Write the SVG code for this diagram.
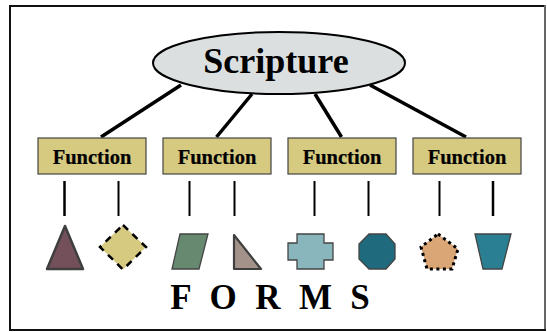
<svg xmlns="http://www.w3.org/2000/svg" width="547" height="332" viewBox="0 0 547 332">
<style>
text{font-family:"Liberation Serif","Times New Roman",serif;font-weight:bold;fill:#000;text-anchor:middle}
.fn rect{fill:#d6ca81;stroke:#444;stroke-width:1.200}
.fn text{font-size:20.500px;stroke:#000;stroke-width:.2}
.c line{stroke:#000;stroke-linecap:butt}
.s{stroke:#444;stroke-width:1.300;stroke-linejoin:miter}
.l{font-size:35px}
</style>
<rect x="10" y="6" width="535" height="324" fill="#fff" stroke="#111" stroke-width="2"/>
<line x1="545" y1="5" x2="545" y2="329" stroke="#666" stroke-width="2"/>
<g id="connectors" class="c">
<line x1="181" y1="85" x2="101" y2="137" stroke-width="3.500"/>
<line x1="252" y1="94" x2="216.500" y2="137" stroke-width="3.500"/>
<line x1="315" y1="94" x2="341.500" y2="137" stroke-width="3.500"/>
<line x1="370" y1="85" x2="466" y2="137" stroke-width="3.500"/>
<line x1="64.500" y1="181" x2="64.500" y2="216" stroke-width="2.500"/>
<line x1="118.500" y1="181" x2="118.500" y2="216" stroke-width="2"/>
<line x1="189.500" y1="181" x2="189.500" y2="216" stroke-width="2"/>
<line x1="234.500" y1="181" x2="234.500" y2="216" stroke-width="2"/>
<line x1="314.500" y1="181" x2="314.500" y2="216" stroke-width="2"/>
<line x1="368.500" y1="181" x2="368.500" y2="216" stroke-width="2"/>
<line x1="439.500" y1="181" x2="439.500" y2="216" stroke-width="2"/>
<line x1="493" y1="181" x2="493" y2="216" stroke-width="2.500"/>
</g>
<g id="scripture">
<ellipse cx="279" cy="63" rx="126" ry="31" fill="#dcdfe0" stroke="#000" stroke-width="2"/>
<text x="276" y="73" font-size="36">Scripture</text>
</g>
<g id="function1" class="fn"><rect x="38" y="138" width="108" height="36"/><text x="92" y="163.500">Function</text></g>
<g id="function2" class="fn"><rect x="163" y="138" width="108" height="36"/><text x="217" y="163.500">Function</text></g>
<g id="function3" class="fn"><rect x="288" y="138" width="108" height="36"/><text x="342" y="163.500">Function</text></g>
<g id="function4" class="fn"><rect x="413" y="138" width="108" height="36"/><text x="467" y="163.500">Function</text></g>
<g id="form1"><polygon points="65,226 83,269 47,269" fill="#74505a" stroke="#3f3f3f" stroke-width="2.500" stroke-linejoin="round"/></g>
<g id="form2"><polygon points="123,225 146,247 123,269.500 100,247" fill="#d6ca81" stroke="#000" stroke-width="2.500" stroke-dasharray="7 6"/></g>
<g id="form3"><polygon class="s" points="180,234 208,234 199,269 172,269" fill="#66896f"/></g>
<g id="form4"><polygon points="234,235 261,269 234,269" fill="#a39289" stroke="#3f3f3f" stroke-width="2.200" stroke-linejoin="round"/></g>
<g id="form5"><polygon class="s" points="297,234 324,234 324,243 333,243 333,260 324,260 324,269 297,269 297,260 288,260 288,243 297,243" fill="#89b6bd"/></g>
<g id="form6"><polygon class="s" points="369,234 386,234 395,244 395,259 386,269 369,269 359,259 359,244" fill="#1f6a7c"/></g>
<g id="form7"><polygon points="438,234 458,249 452,269 427,269 421,247" fill="#dba676" stroke="#000" stroke-width="3" stroke-dasharray="3 3.500"/></g>
<g id="form8"><polygon class="s" points="475,234 511,234 502,269 483,269" fill="#2a8092"/></g>
<g id="forms-label">
<text class="l" x="181" y="309">F</text>
<text class="l" x="223" y="309">O</text>
<text class="l" x="268" y="309">R</text>
<text class="l" x="315.500" y="309">M</text>
<text class="l" x="360" y="309">S</text>
</g>
</svg>
